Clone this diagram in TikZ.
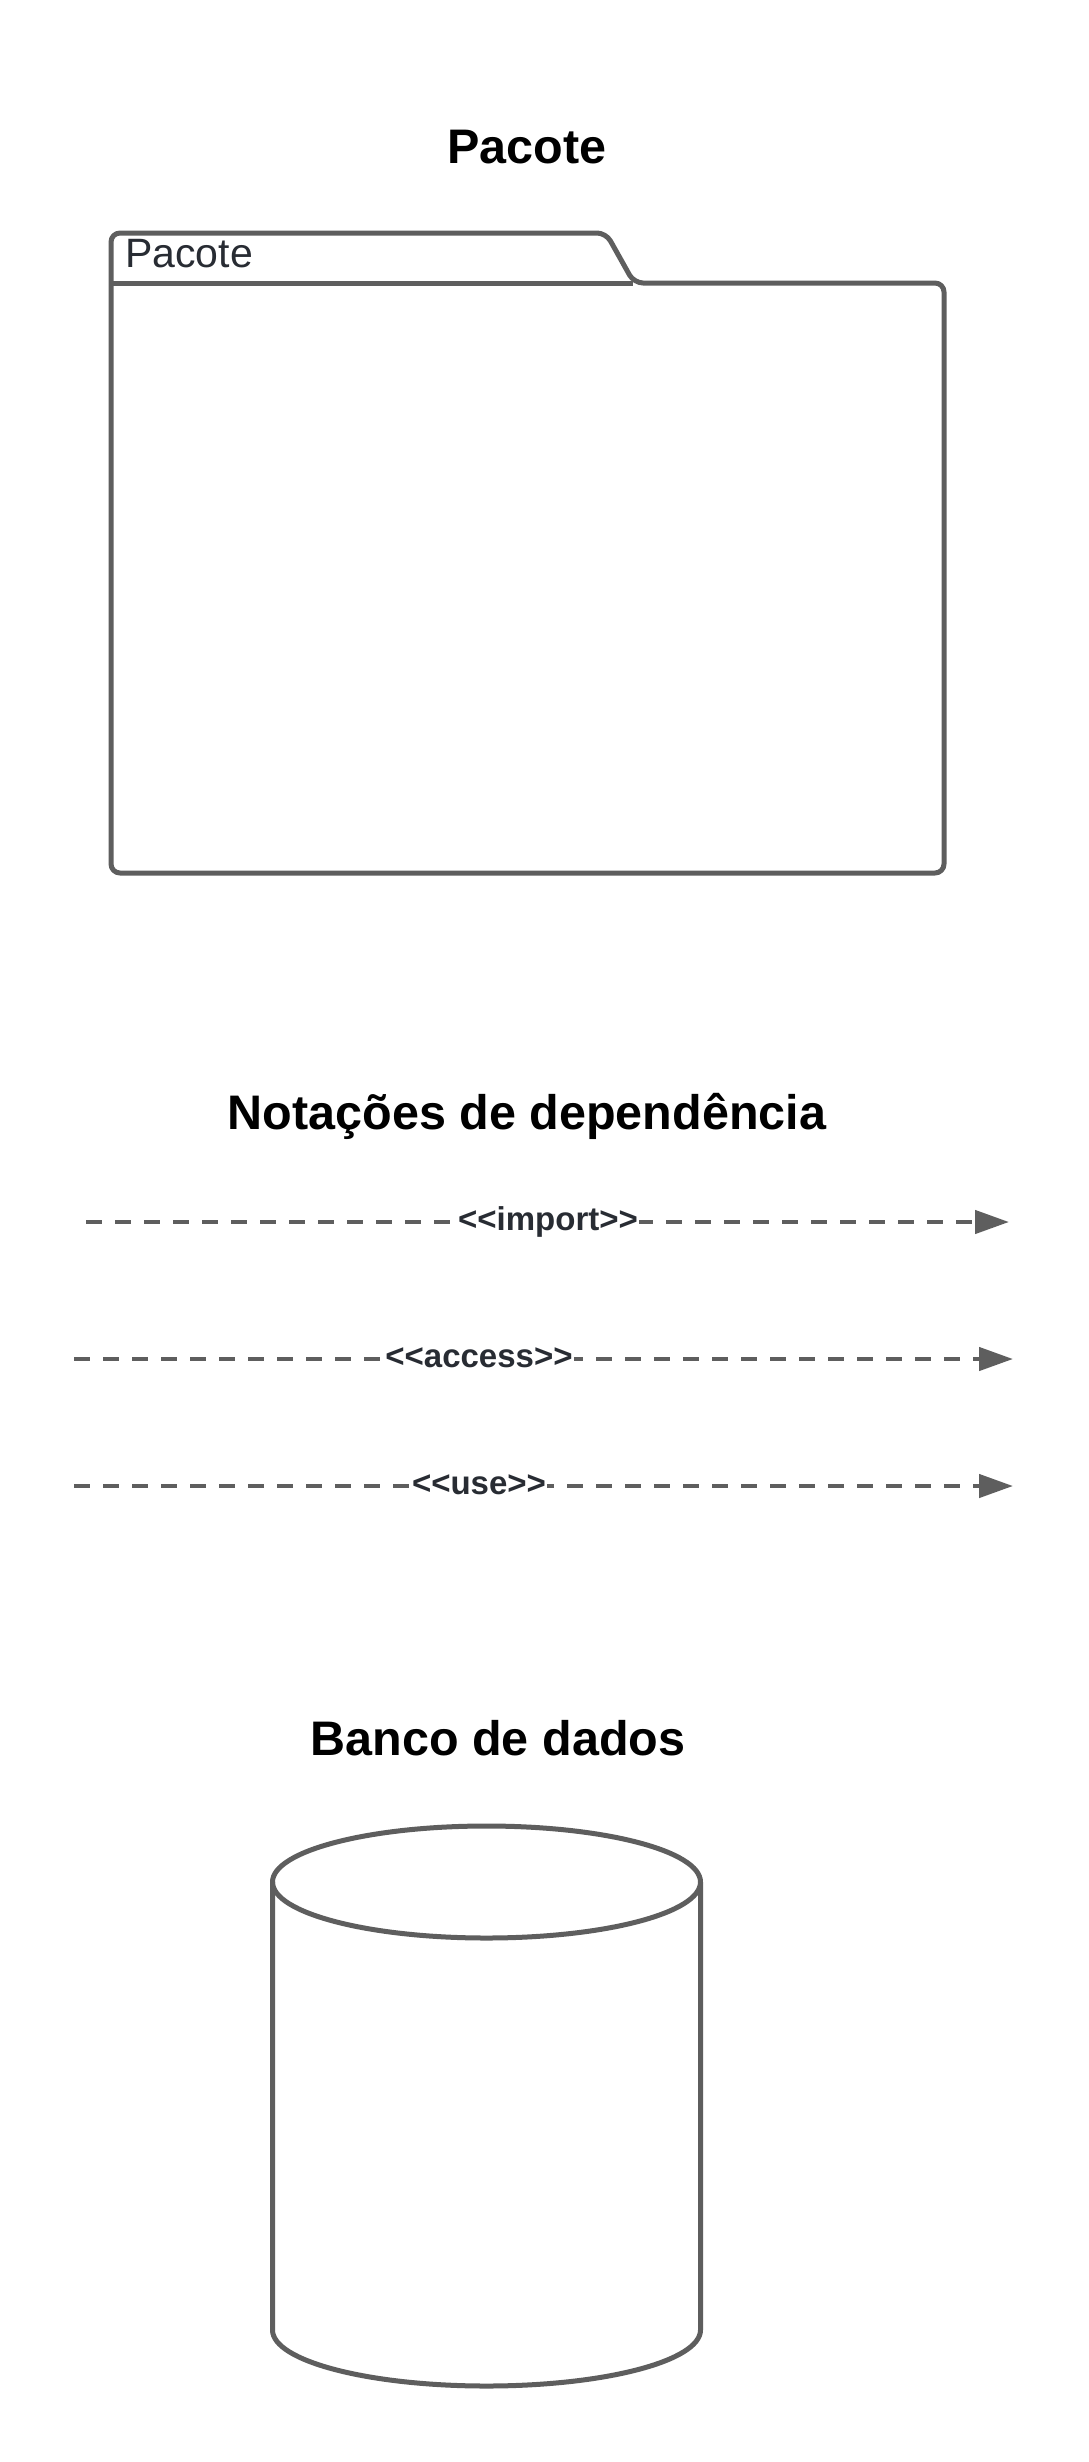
\documentclass[tikz,border=0pt]{standalone}
\usepackage{fontspec}
\setmainfont{Liberation Sans}
\usetikzlibrary{arrows.meta}
\definecolor{linegray}{HTML}{5E5E5E}
\definecolor{txtdark}{HTML}{282C33}
\begin{document}
\begin{tikzpicture}[x=1pt,y=-1pt,
  shapeline/.style={draw=linegray,line width=5pt,line join=round},
  title/.style={font=\fontsize{48.5}{56}\selectfont\bfseries,text=black,inner sep=0pt,anchor=base},
  deparrow/.style={draw=linegray,line width=4.5pt,dash pattern=on 16pt off 13pt,
    -{Triangle[length=34pt,width=23pt]}},
  deplabel/.style={font=\fontsize{33}{38}\selectfont\bfseries,text=txtdark,fill=white,
    inner xsep=1pt,inner ysep=0pt,text height=24pt,text depth=8pt}]
\useasboundingbox[fill=white] (0,0) rectangle (1088,2462);

% ---- Pacote ----
\node[title] (tpacote) at (527,163) {Pacote};
\draw[shapeline,rounded corners=9pt] (111,600) -- (111,233) -- (606,233) -- (634,283)
  -- (944,283) -- (944,873) -- (111,873) -- cycle;
\draw[shapeline] (111,283) -- (633,283);
\node[font=\fontsize{41}{46}\selectfont,text=txtdark,inner sep=0pt,anchor=base west]
  (tablabel) at (125,267) {Pacote};

% ---- Notações de dependência ----
\node[title] (tdep) at (527,1129) {Notações de dependência};

\coordinate (i1) at (86,1222);
\coordinate (i2) at (1009,1222);
\coordinate (a1) at (74,1359);
\coordinate (a2) at (1013,1359);
\coordinate (u1) at (74,1486);
\coordinate (u2) at (1013,1486);

\draw[deparrow] (i1) -- (i2);
\node[deplabel] (limport) at (548,1222) {<\kern0pt<import>\kern0pt>};
\draw[deparrow] (a1) -- (a2);
\node[deplabel] (laccess) at (479,1359) {<\kern0pt<access>\kern0pt>};
\draw[deparrow] (u1) -- (u2);
\node[deplabel] (luse) at (479,1486) {<\kern0pt<use>\kern0pt>};

% ---- Banco de dados ----
\node[title] (tbanco) at (498,1755) {Banco de dados};
\draw[shapeline] (272.5,1882) -- (272.5,2330)
  arc[start angle=180,end angle=360,x radius=214pt,y radius=56pt] -- (700.5,1882);
\draw[shapeline] (486.5,1882) ellipse [x radius=214pt,y radius=56pt];
\end{tikzpicture}
\end{document}
